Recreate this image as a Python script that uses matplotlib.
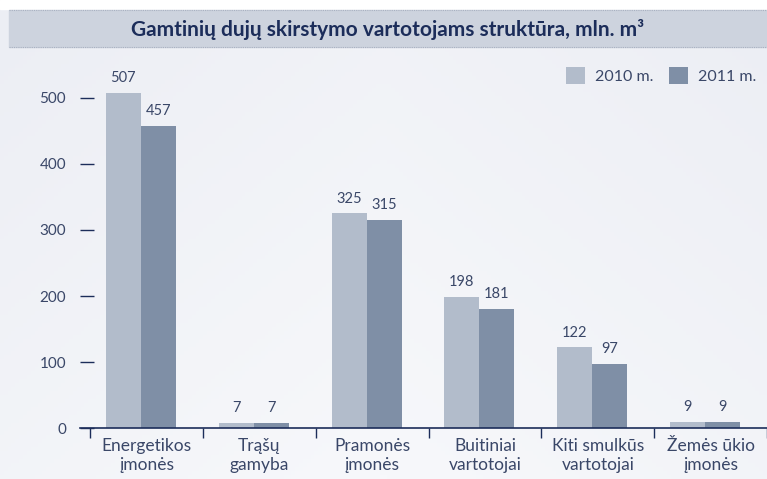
import numpy as np
import matplotlib
matplotlib.use("Agg")
import matplotlib.pyplot as plt
from matplotlib.patches import Rectangle

categories = ["Energetikos\nįmonės", "Trąšų\ngamyba", "Pramonės\nįmonės",
              "Buitiniai\nvartotojai", "Kiti smulkūs\nvartotojai", "Žemės ūkio\nįmonės"]
vals_2010 = [507, 7, 325, 198, 122, 9]
vals_2011 = [457, 7, 315, 181, 97, 9]
series_labels = ["2010 m.", "2011 m."]
yticks = [0, 100, 200, 300, 400, 500]
title = "Gamtinių dujų skirstymo vartotojams struktūra, mln. m³"

c_light = "#b2bccb"
c_dark = "#7f8fa6"
txt = "#3a4768"
navy = "#1c2d5a"
font = ["Lato", "DejaVu Sans"]

W, H = 767, 479
fig = plt.figure(figsize=(W / 100, H / 100), dpi=100)

# background
bg = fig.add_axes([0, 0, 1, 1])
gx = np.linspace(0, 1, 200)
gy = np.linspace(0, 1, 120)
GX, GY = np.meshgrid(gx, gy)
grad = 0.6 * GY + 0.4 * (1 - np.abs(GX - 0.5) * 2)
cm = matplotlib.colors.LinearSegmentedColormap.from_list("b", ["#eceef4", "#f7f8fb"])
bg.imshow(grad, extent=[0, 1, 0, 1], aspect="auto", cmap=cm, zorder=0)
bg.set_xlim(0, 1)
bg.set_ylim(0, 1)
bg.axis("off")
bg.add_patch(Rectangle((0, 1 - 9 / H), 1, 9 / H, color="white", zorder=1))
bg.add_patch(Rectangle((9 / W, 1 - 47 / H), 1, 37 / H, color="#cdd3de", zorder=2))
for yy in [1 - 10 / H, 1 - 47 / H]:
    bg.plot([9 / W, 1], [yy, yy], color="#a8b0c0", lw=0.8, ls=(0, (1, 1)), zorder=3)
bg.text(0.5 + 0.5 * 9 / W, 1 - 29 / H, title, ha="center", va="center", fontsize=15,
        fontweight="bold", color=navy, family=font, zorder=4)

# main axes
ax_top = 428 - 550 * 0.66
ax = fig.add_axes([80 / W, 51 / H, 1 - 80 / W, (428 - ax_top) / H])
ax.patch.set_alpha(0)
x = np.arange(len(categories))
bw = 0.31
shift = -0.05
b1 = ax.bar(x + shift - bw / 2, vals_2010, bw, color=c_light, label=series_labels[0], zorder=2)
b2 = ax.bar(x + shift + bw / 2, vals_2011, bw, color=c_dark, label=series_labels[1], zorder=2)
for bars in (b1, b2):
    for r in bars:
        ax.text(r.get_x() + r.get_width() / 2, r.get_height() + 12, str(int(r.get_height())),
                ha="center", va="bottom", fontsize=10.5, color=txt, family=font)

ax.set_xlim(-0.59, 5.49)
ax.set_ylim(0, 550)
for s in ["top", "right", "left"]:
    ax.spines[s].set_visible(False)
ax.spines["bottom"].set_color(navy)
ax.spines["bottom"].set_linewidth(1.2)

ax.set_yticks(yticks)
ax.set_yticklabels([str(v) for v in yticks], fontsize=11, color=txt, family=font)
ax.tick_params(axis="y", direction="in", length=10, width=1, color=navy, pad=10)

ax.set_xticks(x)
ax.set_xticklabels(categories, fontsize=12.5, color=txt, family=font, linespacing=1.25)
ax.tick_params(axis="x", length=0, pad=7)
ax.set_xticks(np.arange(-0.5, 5.6, 1), minor=True)
ax.tick_params(axis="x", which="minor", direction="out", length=7, width=1, color=navy)

leg = ax.legend(loc="upper right", bbox_to_anchor=(1.005, 1.035), ncol=2, frameon=False,
                handlelength=1.2, handleheight=1.3, handletextpad=0.6, columnspacing=1.0,
                prop={"family": font, "size": 11.5})
for t in leg.get_texts():
    t.set_color(txt)

fig.savefig("out.png", dpi=100)
